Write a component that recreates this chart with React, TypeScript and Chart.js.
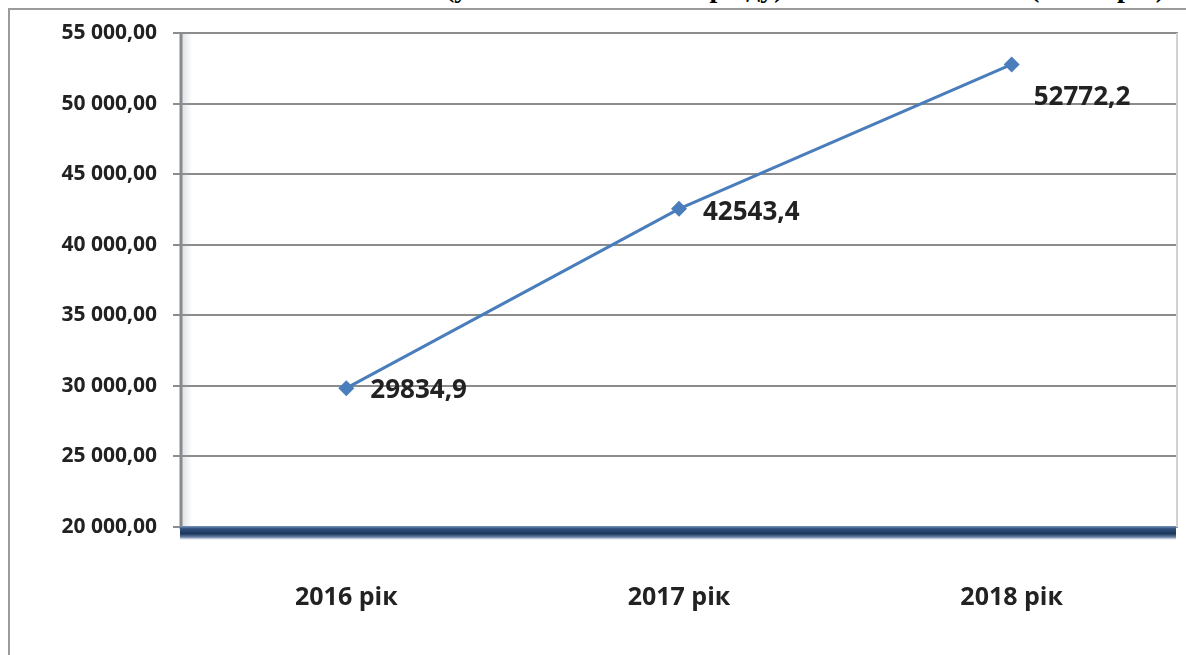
import React, { useEffect, useRef } from "react";
import { Chart, registerables } from "chart.js";

Chart.register(...registerables);

const CATEGORIES = ["2016 рік", "2017 рік", "2018 рік"];
const VALUES = [29834.9, 42543.4, 52772.2];
const VALUE_LABELS = ["29834,9", "42543,4", "52772,2"];
const Y_MIN = 20000;
const Y_MAX = 55000;
const Y_STEP = 5000;
const TITLE_LEFT = "(у валюті звітного періоду)";
const TITLE_RIGHT = "(млн. грн.)";

const LINE_COLOR = "#4a7dbb";
const TEXT_COLOR = "#222222";

function formatTick(v: number): string {
  const s = Math.round(v).toString();
  const parts: string[] = [];
  for (let i = s.length; i > 0; i -= 3) parts.unshift(s.slice(Math.max(0, i - 3), i));
  return parts.join(" ") + ",00";
}

const decorPlugin = {
  id: "decor",
  beforeDatasetsDraw(chart: any) {
    const { ctx, chartArea } = chart;
    const { left, right, top, bottom } = chartArea;
    ctx.save();
    const g = ctx.createLinearGradient(left, 0, left + 12, 0);
    g.addColorStop(0, "rgba(140,150,170,0.35)");
    g.addColorStop(1, "rgba(140,150,170,0)");
    ctx.fillStyle = g;
    ctx.fillRect(left, top, 12, bottom - top);
    ctx.strokeStyle = "#8a8a8a";
    ctx.lineWidth = 3;
    ctx.beginPath();
    ctx.moveTo(left + 1, top);
    ctx.lineTo(left + 1, bottom + 2);
    ctx.stroke();
    ctx.strokeStyle = "#d2d2d2";
    ctx.lineWidth = 2;
    ctx.beginPath();
    ctx.moveTo(right - 1, top);
    ctx.lineTo(right - 1, bottom);
    ctx.stroke();
    const fg = ctx.createLinearGradient(0, bottom - 1, 0, bottom + 13);
    fg.addColorStop(0, "#7d98bd");
    fg.addColorStop(0.2, "#2f507c");
    fg.addColorStop(0.55, "#1b365c");
    fg.addColorStop(0.8, "#6b83a6");
    fg.addColorStop(1, "rgba(160,175,200,0)");
    ctx.fillStyle = fg;
    ctx.fillRect(left, bottom - 1, right - left - 2, 14);
    ctx.restore();
  },
  afterDatasetsDraw(chart: any) {
    const { ctx } = chart;
    const meta = chart.getDatasetMeta(0);
    ctx.save();
    ctx.font = "bold 26px 'Open Sans'";
    ctx.fillStyle = TEXT_COLOR;
    ctx.textAlign = "left";
    ctx.textBaseline = "middle";
    meta.data.forEach((pt: any, i: number) => {
      const last = i === meta.data.length - 1;
      const dx = last ? 22 : 24;
      const dy = last ? 33 : i === 1 ? 4 : 2;
      ctx.fillText(VALUE_LABELS[i], pt.x + dx, pt.y + dy);
    });
    ctx.restore();
  },
};

export default function App() {
  const canvasRef = useRef<HTMLCanvasElement | null>(null);

  useEffect(() => {
    if (!canvasRef.current) return;
    const chart = new Chart(canvasRef.current, {
      type: "line",
      data: {
        labels: CATEGORIES,
        datasets: [
          {
            data: VALUES,
            borderColor: LINE_COLOR,
            backgroundColor: LINE_COLOR,
            borderWidth: 3,
            pointStyle: "rectRot",
            pointRadius: 8,
            pointBorderWidth: 0,
            pointBackgroundColor: LINE_COLOR,
            tension: 0,
          },
        ],
      },
      plugins: [decorPlugin],
      options: {
        animation: false,
        responsive: false,
        devicePixelRatio: 1,
        layout: { padding: { top: 33, right: 6, left: 0, bottom: 0 } },
        plugins: {
          legend: { display: false },
          tooltip: { enabled: false },
          title: { display: false },
        },
        scales: {
          x: {
            offset: true,
            grid: { display: false, drawTicks: false },
            border: { display: false },
            afterFit: (scale: any) => {
              scale.height = 128;
            },
            ticks: {
              padding: 56,
              color: TEXT_COLOR,
              font: { family: "'Open Sans'", size: 25, weight: "bold" },
            },
          },
          y: {
            min: Y_MIN,
            max: Y_MAX,
            grid: { color: "#8c8c8c", lineWidth: 2, tickLength: 7 },
            border: { display: false },
            afterFit: (scale: any) => {
              scale.width = 180;
            },
            ticks: {
              stepSize: Y_STEP,
              padding: 16,
              color: TEXT_COLOR,
              font: { family: "'Open Sans'", size: 21, weight: "bold" },
              callback: (v: any) => formatTick(Number(v)),
            },
          },
        },
      },
    });
    return () => chart.destroy();
  }, []);

  const titleStyle: React.CSSProperties = {
    position: "absolute",
    top: -26,
    fontFamily: "'Liberation Serif', 'Times New Roman', serif",
    fontWeight: "bold",
    fontSize: 28,
    lineHeight: "28px",
    whiteSpace: "nowrap",
    color: "#000",
  };

  return (
    <div style={{ position: "fixed", inset: 0, background: "#fff", overflow: "hidden" }}>
      <div style={{ position: "absolute", left: 0, top: 0, width: 1186, height: 8, overflow: "hidden" }}>
        <span style={{ ...titleStyle, left: 445 }}>{TITLE_LEFT}</span>
        <span style={{ ...titleStyle, left: 1030 }}>{TITLE_RIGHT}</span>
      </div>
      <div
        style={{
          position: "absolute",
          left: 8,
          top: 8,
          width: 1200,
          height: 700,
          borderLeft: "2px solid #9b9b9b",
          borderTop: "2px solid #9b9b9b",
        }}
      />
      <canvas
        ref={canvasRef}
        width={1186}
        height={655}
        style={{ position: "absolute", left: 0, top: 0, width: 1186, height: 655 }}
      />
    </div>
  );
}
